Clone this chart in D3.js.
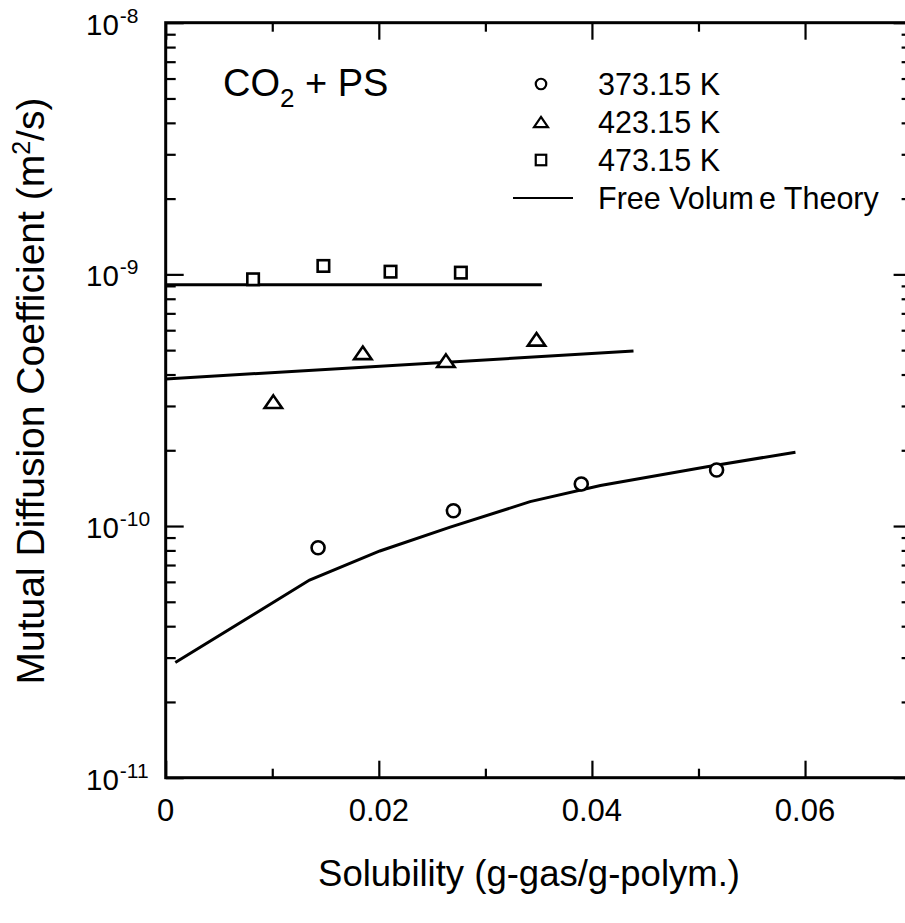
<!DOCTYPE html>
<html>
<head>
<meta charset="utf-8">
<script src="https://cdn.jsdelivr.net/npm/d3@7"></script>
<style>
  body { margin: 0; background: #fff; }
  svg { display: block; font-family: Arial, "Liberation Sans", sans-serif; }
</style>
</head>
<body>
<svg id="chart"></svg>
<script>
const w = 905;
const h = 923;

// measured data (solubility g-gas/g-polym, D m2/s)
const exp373x = [0.0143, 0.0270, 0.0390, 0.0517];
const exp373y = [8.2e-11, 1.15e-10, 1.47e-10, 1.67e-10];
const exp423x = [0.0101, 0.0185, 0.0263, 0.0348];
const exp423y = [3.12e-10, 4.88e-10, 4.54e-10, 5.52e-10];
const exp473x = [0.0082, 0.0148, 0.0211, 0.0277];
const exp473y = [9.56e-10, 1.08e-9, 1.025e-9, 1.016e-9];

// free volume theory curves
const fvt373x = [0.0009, 0.0135, 0.0201, 0.0267, 0.0342, 0.0408, 0.0508, 0.0591];
const fvt373y = [2.87e-11, 6.1e-11, 7.96e-11, 9.9e-11, 1.25e-10, 1.45e-10, 1.72e-10, 1.965e-10];
const fvt423x = [0.0, 0.0439];
const fvt423y = [3.84e-10, 4.96e-10];
const fvt473x = [0.0, 0.0353];
const fvt473y = [9.1e-10, 9.1e-10];

const xMajor = [0, 0.02, 0.04, 0.06];
const xMinor = [0.01, 0.03, 0.05];
const yMajor = [1e-11, 1e-10, 1e-9, 1e-8];
const yExp = ["-11", "-10", "-9", "-8"];

const legendLabels = ["373.15 K", "423.15 K", "473.15 K", "Free Volume Theory"];

const padLeft = 165.7, padRight = 911.6, padTop = 22.7, padBottom = 777.7;

const svg = d3.select("#chart")
  .attr("width", w)
  .attr("height", h)
  .attr("viewBox", [0, 0, w, h]);

svg.append("rect").attr("width", w).attr("height", h).attr("fill", "#fff");

const x = d3.scaleLinear().domain([0, 0.07]).range([padLeft, padRight]);
const y = d3.scaleLog().domain([1e-11, 1e-8]).range([padBottom, padTop]);

const yMinor = [];
for (let e = -11; e < -8; e++) {
  for (let k = 2; k <= 9; k++) yMinor.push(k * Math.pow(10, e));
}

function styleAxis(g, width) {
  g.select(".domain").remove();
  g.selectAll("line").attr("stroke", "#000").attr("stroke-width", width);
  g.selectAll("text").remove();
}

// ticks, all pointing inward
const sides = [
  {axis: d3.axisBottom, t: `translate(0,${padBottom})`},
  {axis: d3.axisTop, t: `translate(0,${padTop})`}
];
for (const s of sides) {
  svg.append("g").attr("transform", s.t)
    .call(s.axis(x).tickValues(xMajor).tickSize(-17).tickFormat(""))
    .call(g => styleAxis(g, 2.2));
  svg.append("g").attr("transform", s.t)
    .call(s.axis(x).tickValues(xMinor).tickSize(-9).tickFormat(""))
    .call(g => styleAxis(g, 2.2));
}
const vsides = [
  {axis: d3.axisLeft, t: `translate(${padLeft},0)`},
  {axis: d3.axisRight, t: `translate(${padRight},0)`}
];
for (const s of vsides) {
  svg.append("g").attr("transform", s.t)
    .call(s.axis(y).tickValues(yMajor).tickSize(-18).tickFormat(""))
    .call(g => styleAxis(g, 2.2));
  svg.append("g").attr("transform", s.t)
    .call(s.axis(y).tickValues(yMinor).tickSize(-10).tickFormat(""))
    .call(g => styleAxis(g, 2.2));
}

// frame
svg.append("rect")
  .attr("x", padLeft).attr("y", padTop)
  .attr("width", padRight - padLeft).attr("height", padBottom - padTop)
  .attr("fill", "none").attr("stroke", "#000").attr("stroke-width", 3);

// x tick labels
svg.append("g").selectAll("text")
  .data(xMajor)
  .join("text")
  .attr("x", d => x(d))
  .attr("y", padBottom + 43)
  .attr("text-anchor", "middle")
  .attr("font-size", 31)
  .text(d => d === 0 ? "0" : d3.format(".2f")(d));

// y tick labels with superscript exponent
const yl = svg.append("g").selectAll("text")
  .data(yMajor)
  .join("text")
  .attr("x", 86)
  .attr("y", d => y(d) + 12)
  .attr("font-size", 29.5);
yl.append("tspan").text("10");
yl.append("tspan").attr("dx", 1).attr("dy", -12).attr("font-size", 21).text((d, i) => yExp[i]);

// axis titles
svg.append("text")
  .attr("x", 529)
  .attr("y", 886)
  .attr("text-anchor", "middle")
  .attr("font-size", 36.5)
  .text("Solubility (g-gas/g-polym.)");

const yt = svg.append("text")
  .attr("transform", "translate(44,391) rotate(-90)")
  .attr("text-anchor", "middle")
  .attr("font-size", 39);
yt.append("tspan").text("Mutual Diffusion Coefficient (m");
yt.append("tspan").attr("dy", -14).attr("font-size", 25).text("2");
yt.append("tspan").attr("dy", 14).text("/s)");

// curves
const line = d3.line().x(d => x(d[0])).y(d => y(d[1]));
const curves = [
  d3.zip(fvt373x, fvt373y),
  d3.zip(fvt423x, fvt423y),
  d3.zip(fvt473x, fvt473y)
];
svg.append("g").selectAll("path")
  .data(curves)
  .join("path")
  .attr("d", line)
  .attr("fill", "none")
  .attr("stroke", "#000")
  .attr("stroke-width", 3);

// marker shapes
function triPath(s) {
  const hw = s * 0.58, hh = s * 0.42;
  return `M0,${-hh}L${hw},${hh}L${-hw},${hh}Z`;
}
function drawMarker(g, kind, size) {
  if (kind === "circle") {
    g.append("circle").attr("r", size / 2);
  } else if (kind === "square") {
    g.append("rect").attr("x", -size / 2).attr("y", -size / 2).attr("width", size).attr("height", size);
  } else {
    g.append("path").attr("d", triPath(size));
  }
  g.selectAll("*").attr("fill", "#fff").attr("stroke", "#000").attr("stroke-width", 2.6);
}

const series = [
  {kind: "circle", pts: d3.zip(exp373x, exp373y), size: 13},
  {kind: "triangle", pts: d3.zip(exp423x, exp423y), size: 15},
  {kind: "square", pts: d3.zip(exp473x, exp473y), size: 11.5}
];
for (const s of series) {
  svg.append("g").selectAll("g")
    .data(s.pts)
    .join("g")
    .attr("transform", d => `translate(${x(d[0])},${y(d[1])})`)
    .each(function() { drawMarker(d3.select(this), s.kind, s.size); });
}

// annotation
const co2 = svg.append("text")
  .attr("x", 223).attr("y", 96)
  .attr("font-size", 38);
co2.append("tspan").text("CO");
co2.append("tspan").attr("dy", 11).attr("font-size", 26).text("2");
co2.append("tspan").attr("dy", -11).text(" + PS");

// legend
const rowY = [84, 122, 160, 198];
const legendKinds = ["circle", "triangle", "square", "line"];
const lg = svg.append("g");
legendKinds.forEach((k, i) => {
  const g = lg.append("g").attr("transform", `translate(541,${rowY[i]})`);
  if (k === "line") {
    g.append("line").attr("x1", -28).attr("x2", 32).attr("stroke", "#000").attr("stroke-width", 2);
  } else {
    drawMarker(g, k, k === "triangle" ? 12 : 10.5);
    g.selectAll("*").attr("stroke-width", 2.2);
  }
});
const lt = lg.selectAll("text")
  .data(legendLabels)
  .join("text")
  .attr("x", 598)
  .attr("y", (d, i) => rowY[i] + 11)
  .attr("font-size", 30.5);
lt.filter((d, i) => i < 3).text(d => d);
// the original spaces the last letter of "Volume" slightly apart
const fvt = lt.filter((d, i) => i === 3);
fvt.append("tspan").text("Free Volum");
fvt.append("tspan").attr("dx", 5).text("e Theory");
</script>
</body>
</html>
